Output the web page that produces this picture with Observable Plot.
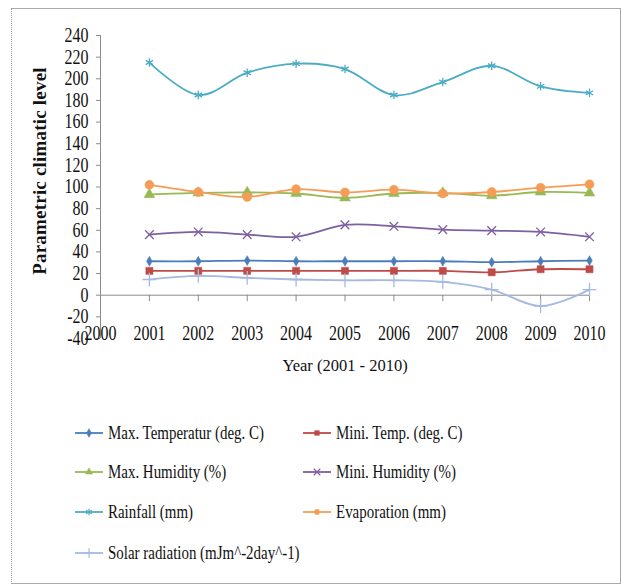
<!DOCTYPE html>
<html>
<head>
<meta charset="utf-8">
<script src="https://cdn.jsdelivr.net/npm/d3@7"></script>
<script src="https://cdn.jsdelivr.net/npm/@observablehq/plot@0.6"></script>
<style>
  html, body { margin: 0; padding: 0; background: #fff; }
  #frame { position: absolute; left: 11px; top: 8px; width: 610px; height: 576px; border: 1px solid #aaa; border-left: 1px dotted #999; box-sizing: border-box; }
  #chart { position: absolute; left: 0; top: 0; }
  #chart svg text { font-family: 'Liberation Serif' !important; }
  .leg { position: absolute; display: flex; align-items: center; font-family: 'Liberation Serif' !important; font-size: 18px; color: #111; white-space: nowrap; }
  .leg svg { margin-right: 3px; flex: none; }
  .leg span { display: inline-block; transform: scaleX(0.83); transform-origin: 0 50%; }
</style>
</head>
<body>
<div id="frame"></div>
<div id="chart"></div>
<div id="legend"></div>
<script>
const years = [2001, 2002, 2003, 2004, 2005, 2006, 2007, 2008, 2009, 2010];
const xTicks = [2000, 2001, 2002, 2003, 2004, 2005, 2006, 2007, 2008, 2009, 2010];
const yTicks = [-40, -20, 0, 20, 40, 60, 80, 100, 120, 140, 160, 180, 200, 220, 240];

const maxTemp     = [31.4, 31.4, 32.0, 31.4, 31.4, 31.4, 31.4, 30.5, 31.4, 32.0];
const minTemp     = [22.5, 22.5, 22.5, 22.5, 22.5, 22.5, 22.5, 21.2, 24.0, 24.0];
const maxHumidity = [93.0, 94.5, 95.0, 94.0, 90.0, 94.0, 94.5, 92.0, 95.4, 94.5];
const minHumidity = [56.0, 58.5, 56.0, 54.0, 65.0, 63.7, 60.6, 59.7, 58.5, 54.0];
const rainfall    = [215, 185, 205.6, 214, 209, 185, 197, 212, 193, 187];
const evaporation = [102, 95.4, 90.8, 98, 95, 97.5, 94, 95.4, 99.4, 102.5];
const solar       = [14.5, 17.8, 16.0, 14.5, 13.8, 13.8, 12.3, 5.2, -10.0, 5.2];

const seriesNames = [
  "Max. Temperatur (deg. C)", "Mini. Temp. (deg. C)",
  "Max. Humidity (%)", "Mini. Humidity (%)",
  "Rainfall (mm)", "Evaporation (mm)",
  "Solar radiation (mJm^-2day^-1)"
];
const seriesValues = [maxTemp, minTemp, maxHumidity, minHumidity, rainfall, evaporation, solar];
const seriesColors = ["#4A7EBB", "#BE4B48", "#98B954", "#7D60A0", "#4BACC6", "#F59D56", "#A5B9E2"];
const seriesSymbols = ["diamond", "square", "triangle", "times", "asterisk", "circle", "plus"];
const symbolFilled = [true, true, true, false, false, true, false];
const symbolSizes = [4, 6, 6, 6, 6, 7, 7];

const series = seriesNames.map((name, i) => ({
  name, color: seriesColors[i], symbol: seriesSymbols[i], filled: symbolFilled[i], r: symbolSizes[i],
  data: years.map((year, j) => ({year, value: seriesValues[i][j], name}))
}));

const marks = [
  Plot.ruleX([2000], {y1: -40, y2: 240, stroke: "#8c8c8c"}),
  Plot.ruleY([0], {stroke: "#8c8c8c"}),
  Plot.ruleX(years, {x: d => d, y1: 0, y2: -6, stroke: "#8c8c8c"}),
  Plot.axisY({ticks: yTicks, tickSize: 4, tickPadding: 8, stroke: "#8c8c8c", fill: "#111",
              tickFormat: d => String(d),
              label: "Parametric climatic level", labelAnchor: "center", labelOffset: 68, labelArrow: "none"}),
  Plot.axisX({ticks: xTicks, tickSize: 0, tickPadding: 0, dy: -13, tickFormat: d => String(d), fill: "#111",
              label: "Year (2001 - 2010)", labelAnchor: "center", labelOffset: 32, labelArrow: "none"})
];
for (const s of series) {
  marks.push(Plot.line(s.data, {x: "year", y: "value", stroke: s.color, strokeWidth: 1.8, curve: "cardinal"}));
  marks.push(Plot.dot(s.data, {x: "year", y: "value", symbol: () => s.symbol, r: s.r / 2 + 1,
    fill: s.filled ? s.color : "none", stroke: s.color, strokeWidth: s.filled ? 0.5 : 1.3}));
}

const plot = Plot.plot({
  width: 623, height: 380,
  marginLeft: 100, marginRight: 34, marginTop: 35, marginBottom: 42,
  x: {domain: [2000, 2010]},
  y: {domain: [-40, 240]},
  symbol: {type: "identity"},
  style: {fontFamily: "Liberation Serif", fontSize: "20px", background: "transparent", color: "#111", overflow: "visible"},
  marks
});
document.getElementById("chart").appendChild(plot);

// condense tick labels horizontally, like the reference
d3.select(plot).selectAll('g[aria-label="y-axis tick label"] text, g[aria-label="x-axis tick label"] text')
  .each(function() {
    const len = this.getComputedTextLength();
    this.setAttribute("textLength", (len * 0.8).toFixed(1));
    this.setAttribute("lengthAdjust", "spacingAndGlyphs");
  });

// style axis labels
d3.select(plot).selectAll('g[aria-label="y-axis label"] text')
  .style("font-weight", "bold").style("font-size", "19px").style("letter-spacing", "0.2px")
  .attr("dx", 16);
d3.select(plot).selectAll('g[aria-label="x-axis label"] text')
  .style("font-size", "16.5px");

// legend
const legend = d3.select("#legend");
const colX = [75, 303];
const rowY = [433, 472, 512, 553];
const symMap = {diamond: d3.symbolDiamond, square: d3.symbolSquare, triangle: d3.symbolTriangle,
  times: d3.symbolTimes, asterisk: d3.symbolAsterisk, circle: d3.symbolCircle, plus: d3.symbolPlus};
series.forEach((s, i) => {
  const col = i % 2, row = Math.floor(i / 2);
  const item = legend.append("div").attr("class", "leg")
    .style("left", colX[col] + "px").style("top", (rowY[row] - 12) + "px").style("height", "24px");
  const sv = item.append("svg").attr("width", 30).attr("height", 12);
  sv.append("line").attr("x1", 0).attr("x2", 28).attr("y1", 6).attr("y2", 6)
    .attr("stroke", s.color).attr("stroke-width", 1.8);
  sv.append("path").attr("transform", "translate(14,6)")
    .attr("d", d3.symbol(symMap[s.symbol], s.filled ? 22 : 30)())
    .attr("fill", s.filled ? s.color : "none").attr("stroke", s.color).attr("stroke-width", s.filled ? 0.5 : 1.2);
  item.append("span").text(s.name);
});
</script>
</body>
</html>
